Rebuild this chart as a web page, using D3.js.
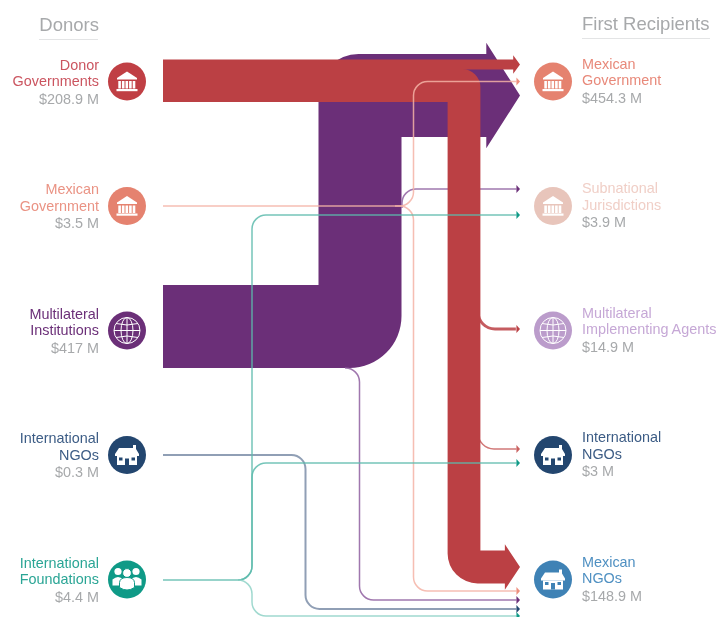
<!DOCTYPE html>
<html>
<head>
    <title>Donors to First Recipients</title>
    <script src="https://d3js.org/d3.v7.min.js"></script>
    <style>
        body { margin: 0; background: #fff; }
        svg { display: block; filter: blur(0.4px); }
        text { font-family: "Liberation Sans", Arial, sans-serif; font-size: 14.4px; }
    </style>
</head>
<body>
    <script>
        // Data
        const donors = ["Donor Governments", "Mexican Government", "Multilateral Institutions", "International NGOs", "International Foundations"];
        const donorLines = [["Donor", "Governments"], ["Mexican", "Government"], ["Multilateral", "Institutions"], ["International", "NGOs"], ["International", "Foundations"]];
        const donorTotals = ["$208.9 M", "$3.5 M", "$417 M", "$0.3 M", "$4.4 M"];

        const recipients = ["Mexican Government", "Subnational Jurisdictions", "Multilateral Implementing Agents", "International NGOs", "Mexican NGOs"];
        const recipientLines = [["Mexican", "Government"], ["Subnational", "Jurisdictions"], ["Multilateral", "Implementing Agents"], ["International", "NGOs"], ["Mexican", "NGOs"]];
        const recipientTotals = ["$454.3 M", "$3.9 M", "$14.9 M", "$3 M", "$148.9 M"];

        // one entry per flow (estimated, the picture only prints the totals)
        const flowSource = [2, 0, 0, 0, 0, 1, 1, 2, 2, 3, 4, 4, 4];
        const flowTarget = [0, 0, 4, 2, 3, 0, 4, 1, 4, 4, 1, 3, 4];
        const flowValue = [405, 50, 160, 14.9, 1.5, 1.7, 1.8, 2, 2, 0.3, 1.9, 1.5, 1];

        // Layout
        const width = 718, height = 617;
        const xStart = 163, xEnd = 520;
        const yDonor = d3.scalePoint().domain(donors).range([81.5, 579.5]);
        const yRecipient = d3.scalePoint().domain(recipients).range([81.5, 579.5]);
        const thickness = d3.scaleLinear().domain([0, 405]).range([0, 83]);

        const donorColor = ["#c03f44", "#e5826f", "#6b2f78", "#23466f", "#0f9a87"];
        const recipientColor = ["#e5826f", "#e8c5bb", "#bb9ccb", "#23466f", "#3f82b5"];
        const recipientText = ["#e8897a", "#f0cfc7", "#c6a8d6", "#3c5c85", "#4f90c2"];
        const donorText = ["#cb5560", "#ea9384", "#6b2f78", "#3c5c85", "#2aa595"];
        const donorIcon = ["bank", "bank", "globe", "house", "people"];
        const recipientIcon = ["bank", "bank", "globe", "house", "house"];

        // route of each flow: x of the lanes, the y offsets from the node centres and corner radius
        const sy = (i, off) => yDonor(donors[flowSource[i]]) + off;
        const ty = (i, off) => yRecipient(recipients[flowTarget[i]]) + off;
        const routes = [
            { pts: [[xStart, sy(0, -4)], [360, sy(0, -4)], [360, ty(0, 14)], [xEnd, ty(0, 14)]], r: [52, 40], color: "#6b2f78" },
            { pts: [[xStart, sy(1, -17)], [xEnd, ty(1, -17)]], r: [], color: "#bb4044" },
            { pts: [[xStart, sy(2, 4)], [464, sy(2, 4)], [464, ty(2, -12.5)], [xEnd, ty(2, -12.5)]], r: [18, 30], color: "#bb4044" },
            { pts: [[478, 295], [478, ty(3, -1.5)], [xEnd, ty(3, -1.5)]], r: [17], color: "#bb4044", head: "#bb4044" },
            { pts: [[478, 425], [478, ty(4, -6)], [xEnd, ty(4, -6)]], r: [16], color: "#c9605f", head: "#c9605f" },
            { pts: [[xStart, sy(5, 0)], [413.5, sy(5, 0)], [413.5, ty(5, 0)], [xEnd, ty(5, 0)]], r: [14, 14], color: "#f4b3a6", head: "#ee8f7e" },
            { pts: [[395, sy(6, 0)], [413.5, sy(6, 0)], [413.5, ty(6, 11.5)], [xEnd, ty(6, 11.5)]], r: [14, 14], color: "#f4b3a6", head: "#ee8f7e" },
            { pts: [[402, 208], [402, ty(7, -17)], [xEnd, ty(7, -17)]], r: [14], color: "#8f5fa0", head: "#6b2f78" },
            { pts: [[345, 368], [359.5, 368], [359.5, ty(8, 20.5)], [xEnd, ty(8, 20.5)]], r: [14, 14], color: "#8f5fa0", head: "#6b2f78" },
            { pts: [[xStart, sy(9, 0)], [305.5, sy(9, 0)], [305.5, ty(9, 29.5)], [xEnd, ty(9, 29.5)]], r: [14, 14], color: "#7d8ea8", head: "#23466f", min: 2 },
            { pts: [[xStart, sy(10, 0.5)], [238, sy(10, 0.5)], [252, sy(10, 0.5)], [252, ty(10, 9)], [xEnd, ty(10, 9)]], r: [0, 14, 14], color: "#5dbbad", head: "#0f9a87" },
            { pts: [[238, sy(11, 0.5)], [252, sy(11, 0.5)], [252, ty(11, 8)], [xEnd, ty(11, 8)]], r: [14, 14], color: "#5dbbad", head: "#0f9a87" },
            { pts: [[238, sy(12, 0.5)], [252, sy(12, 0.5)], [252, ty(12, 36.5)], [xEnd, ty(12, 36.5)]], r: [14, 14], color: "#8fd2c7", head: "#0f9a87" }
        ];

        const svg = d3.select("body").append("svg")
            .attr("width", width)
            .attr("height", height);

        const headLen = w => 3 + 0.37 * w;
        const headHalf = w => 3 + 0.6 * w;

        // Thick flows: outer corner rounded, inner corner sharp, arrow head in the same shape
        function ribbon(pts, w, radii) {
            const dirs = d3.pairs(pts).map(([a, b]) => {
                const l = Math.hypot(b[0] - a[0], b[1] - a[1]);
                return [(b[0] - a[0]) / l, (b[1] - a[1]) / l];
            });
            const h = w / 2, p = d3.path();
            const tip = pts[pts.length - 1], first = pts[0];
            p.moveTo(first[0] + dirs[0][1] * h, first[1] - dirs[0][0] * h);
            dirs.slice(1).forEach((d2, i) => {
                const d1 = dirs[i], c = pts[i + 1];
                const vx = c[0] + (d1[1] + d2[1]) * h, vy = c[1] - (d1[0] + d2[0]) * h;
                const cross = d1[0] * d2[1] - d1[1] * d2[0];
                if (cross > 0) p.arcTo(vx, vy, vx + d2[0], vy + d2[1], radii[i]);
                else p.lineTo(vx, vy);
            });
            const base = tip[0] - headLen(w);
            p.lineTo(base, tip[1] - h);
            p.lineTo(base, tip[1] - headHalf(w));
            p.lineTo(tip[0], tip[1]);
            p.lineTo(base, tip[1] + headHalf(w));
            p.lineTo(base, tip[1] + h);
            for (let i = dirs.length - 1; i > 0; i--) {
                const d1 = dirs[i - 1], d2 = dirs[i], c = pts[i];
                const vx = c[0] - (d1[1] + d2[1]) * h, vy = c[1] + (d1[0] + d2[0]) * h;
                const cross = d1[0] * d2[1] - d1[1] * d2[0];
                if (cross < 0) p.arcTo(vx, vy, vx - d1[0], vy - d1[1], radii[i - 1]);
                else p.lineTo(vx, vy);
            }
            p.lineTo(first[0] - dirs[0][1] * h, first[1] + dirs[0][0] * h);
            p.closePath();
            return p.toString();
        }

        // Thin flows: a stroked line with rounded corners
        function thinLine(pts, radii, w) {
            const p = d3.path();
            p.moveTo(pts[0][0], pts[0][1]);
            pts.slice(1, -1).forEach((c, i) => {
                const n = pts[i + 2];
                if (radii[i]) p.arcTo(c[0], c[1], n[0], n[1], radii[i]);
                else p.lineTo(c[0], c[1]);
            });
            const tip = pts[pts.length - 1];
            p.lineTo(tip[0] - headLen(w), tip[1]);
            return p.toString();
        }

        const drawOrder = [0, 7, 8, 3, 4, 2, 1, 5, 6, 9, 10, 11, 12];
        const flows = svg.append("g");
        drawOrder.forEach(i => {
            const rt = routes[i];
            const w = Math.max(rt.min || 1.5, thickness(flowValue[i]));
            if (w >= 8) {
                flows.append("path")
                    .attr("d", ribbon(rt.pts, w, rt.r))
                    .attr("fill", rt.color);
            } else {
                const tip = rt.pts[rt.pts.length - 1];
                flows.append("path")
                    .attr("d", thinLine(rt.pts, rt.r, w))
                    .attr("fill", "none")
                    .attr("stroke", rt.color)
                    .attr("stroke-width", w)
                    .attr("stroke-opacity", 0.85);
                const a = d3.path();
                a.moveTo(tip[0] - headLen(1.5), tip[1] - headHalf(1.5));
                a.lineTo(tip[0], tip[1]);
                a.lineTo(tip[0] - headLen(1.5), tip[1] + headHalf(1.5));
                a.closePath();
                flows.append("path").attr("d", a.toString()).attr("fill", rt.head);
            }
        });

        // Icons, white on the node colour
        function drawIcon(g, kind, color) {
            const white = "#fff";
            if (kind === "bank") {
                g.append("path").attr("d", "M-10,-3.5L0,-10L10,-3.5V-2H-10Z").attr("fill", white);
                d3.range(5).forEach(i => g.append("rect")
                    .attr("x", -8.7 + i * 3.6).attr("y", -0.5).attr("width", 2.6).attr("height", 7.5).attr("fill", white));
                g.append("rect").attr("x", -10.5).attr("y", 7.5).attr("width", 21).attr("height", 2.2).attr("fill", white);
            } else if (kind === "house") {
                g.append("path").attr("d", "M-12,-1L-8,-7H6V-10H9V-6L12,-1V1H-12Z").attr("fill", white);
                g.append("rect").attr("x", -10).attr("y", 1).attr("width", 20).attr("height", 9).attr("fill", white);
                g.append("rect").attr("x", -2).attr("y", 3.5).attr("width", 4).attr("height", 6.5).attr("fill", color);
                g.append("rect").attr("x", -8).attr("y", 2.5).attr("width", 3.5).attr("height", 3).attr("fill", color);
                g.append("rect").attr("x", 4.5).attr("y", 2.5).attr("width", 3.5).attr("height", 3).attr("fill", color);
            } else if (kind === "globe") {
                const s = g.append("g").attr("fill", "none").attr("stroke", white).attr("stroke-width", 1);
                s.append("circle").attr("r", 13);
                s.append("ellipse").attr("rx", 6).attr("ry", 13);
                s.append("line").attr("x1", 0).attr("x2", 0).attr("y1", -13).attr("y2", 13);
                s.append("line").attr("x1", -13).attr("x2", 13);
                s.append("path").attr("d", "M-11,-7Q0,-4 11,-7M-11,7Q0,4 11,7");
            } else {
                [[-9, -1], [9, -1]].forEach(([x, y]) => {
                    g.append("circle").attr("cx", x).attr("cy", y - 7).attr("r", 3.6).attr("fill", white);
                    g.append("path").attr("d", `M${x - 5.5},${y + 7}V${y + 1}Q${x},${y - 4} ${x + 5.5},${y + 1}V${y + 7}Z`).attr("fill", white);
                });
                g.append("circle").attr("cy", -6.5).attr("r", 4.4).attr("fill", white).attr("stroke", color).attr("stroke-width", 1);
                g.append("path").attr("d", "M-7.5,8V3Q-7,-2 0,-2Q7,-2 7.5,3V8Q0,13 -7.5,8Z").attr("fill", white).attr("stroke", color).attr("stroke-width", 1);
            }
        }

        // Node columns
        function column(names, lines, totals, y, cx, textX, anchor, circleFill, textFill, icons, shift) {
            const g = svg.append("g");
            names.forEach((name, i) => {
                const yc = y(name);
                const yt = yc + shift;
                g.append("circle").attr("cx", cx).attr("cy", yc).attr("r", 19).attr("fill", circleFill[i]);
                drawIcon(g.append("g").attr("transform", `translate(${cx},${yc})`), icons[i], circleFill[i]);
                lines[i].forEach((t, k) => {
                    g.append("text")
                        .attr("x", textX).attr("y", yt - 12 + k * 16.5)
                        .attr("text-anchor", anchor).attr("fill", textFill[i]).text(t);
                });
                g.append("text")
                    .attr("x", textX).attr("y", yt + 22)
                    .attr("text-anchor", anchor).attr("fill", "#a7a9ab").text(totals[i]);
            });
        }
        column(donors, donorLines, donorTotals, yDonor, 127, 99, "end", donorColor, donorText, donorIcon, 0);
        column(recipients, recipientLines, recipientTotals, yRecipient, 553, 582, "start", recipientColor, recipientText, recipientIcon, -1);

        // Column titles
        svg.append("text").attr("x", 99).attr("y", 31).attr("text-anchor", "end")
            .attr("fill", "#a7a9ab").style("font-size", "18.5px").text("Donors");
        svg.append("line").attr("x1", 39).attr("x2", 98).attr("y1", 39.5).attr("y2", 39.5).attr("stroke", "#e3e4e5");
        svg.append("text").attr("x", 582).attr("y", 30)
            .attr("fill", "#a7a9ab").style("font-size", "18.5px").text("First Recipients");
        svg.append("line").attr("x1", 582).attr("x2", 710).attr("y1", 38.5).attr("y2", 38.5).attr("stroke", "#e3e4e5");
    </script>
</body>
</html>
